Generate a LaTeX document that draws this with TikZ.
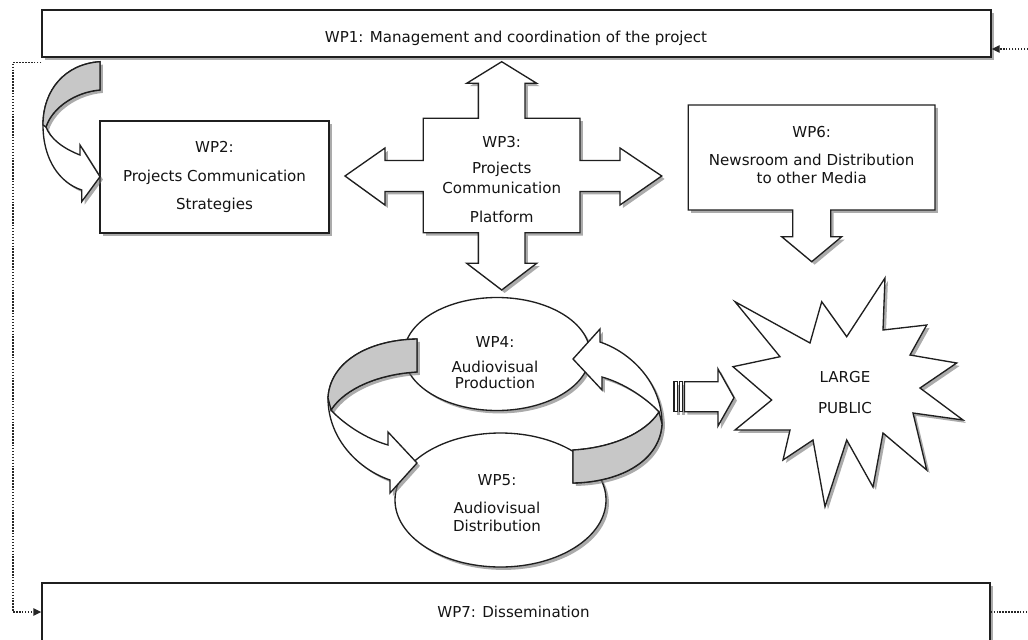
\documentclass[tikz,border=0pt]{standalone}
\usepackage{fontspec}
\setmainfont{DejaVu Sans}
\usetikzlibrary{shapes.geometric,shadows,arrows.meta}
\begin{document}
\begin{tikzpicture}[x=0.75pt,y=-0.75pt,
  shp/.style={draw=black!88,line width=1pt,fill=white,line join=miter,
    drop shadow={shadow xshift=2.2pt,shadow yshift=-2.2pt,fill=black!55,opacity=0.6}},
  band/.style={fill=black!22,draw=black!88,line width=1pt,line join=miter},
  txt/.style={font=\fontsize{11.3}{13.5}\selectfont,text=black!92,align=center,inner sep=0pt},
  dotconn/.style={draw=black!85,line width=1pt,dash pattern=on 1.1pt off 1.1pt},
  endtri/.style={-{Triangle[length=6pt,width=5.5pt]}},
]
\useasboundingbox (0,0) rectangle (1028,639);
\clip (0,0) rectangle (1028,639);

% main boxes
\node[shp,rectangle,inner sep=0pt,minimum width=711.75pt,minimum height=35.25pt] (wp1) at (516.5,33.5) {};
\node[shp,rectangle,inner sep=0pt,minimum width=711pt,minimum height=43.5pt] (wp7) at (516,612) {};
\node[shp,rectangle,inner sep=0pt,minimum width=171.75pt,minimum height=84pt] (wp2) at (214.5,177) {};

% WP3 quad arrow
\draw[shp] (501.7,61.7) -- (536.7,83.3) -- (525,83.3) -- (525,118.3) -- (580,118.3) -- (580,160.5)
  -- (620,160.5) -- (620,148) -- (661.7,176) -- (620,205) -- (620,191.5) -- (580,191.5)
  -- (580,232.7) -- (525,232.7) -- (525,263.3) -- (536.7,263.3) -- (501.7,290) -- (466.7,263.3)
  -- (478.4,263.3) -- (478.4,232.7) -- (423.3,232.7) -- (423.3,191.5) -- (385,191.5) -- (385,205)
  -- (345,176) -- (385,148) -- (385,160.5) -- (423.3,160.5) -- (423.3,118.3) -- (478.4,118.3)
  -- (478.4,83.3) -- (466.7,83.3) -- cycle;

% WP6 callout
\draw[shp] (688.3,105) -- (935,105) -- (935,210) -- (830.7,210) -- (830.7,236.7) -- (841.7,236.7)
  -- (811.7,261.7) -- (781.7,236.7) -- (792.7,236.7) -- (792.7,210) -- (688.3,210) -- cycle;

% ellipses
\node[shp,ellipse,inner sep=0pt,minimum width=158.25pt,minimum height=100.5pt] (wp5) at (500.5,500) {};
\node[shp,ellipse,inner sep=0pt,minimum width=139.5pt,minimum height=84.75pt] (wp4) at (497,354) {};

% circular arrows
\draw[shp] (417,339) .. controls (368,340) and (330,362) .. (328,398)
  .. controls (328,440) and (360,470) .. (390,480) -- (390,493) -- (417,463) -- (388,432) -- (388,445)
  .. controls (360,437) and (338,418) .. (331,410) .. controls (345,388) and (380,374) .. (417,372) -- cycle;
\draw[band] (417,339) .. controls (368,340) and (330,362) .. (328,398) -- (331,410)
  .. controls (345,388) and (380,374) .. (417,372) -- cycle;
\draw[shp] (573,483) .. controls (622,482) and (660,460) .. (662,424)
  .. controls (662,382) and (630,352) .. (600,342) -- (600,329) -- (573,359) -- (602,390) -- (602,377)
  .. controls (630,385) and (652,404) .. (659,412) .. controls (645,434) and (610,448) .. (573,450) -- cycle;
\draw[band] (573,483) .. controls (622,482) and (660,460) .. (662,424) -- (659,412)
  .. controls (645,434) and (610,448) .. (573,450) -- cycle;

% striped arrow
\draw[shp] (674,381.7) rectangle (677.5,411.7);
\draw[shp] (679.5,381.7) rectangle (682.5,411.7);
\draw[shp] (684.5,381.7) -- (718,381.7) -- (718,369) -- (734,397.7) -- (718,426) -- (718,411.7)
  -- (684.5,411.7) -- cycle;

% star
\draw[shp] (735,301.7) -- (810,343) -- (821.7,301.7) -- (846.7,336.7) -- (885,278) -- (883,330)
  -- (926.7,325) -- (910,355) -- (956.7,363) -- (920,388) -- (963,420) -- (913,413)
  -- (926.7,470) -- (883,433) -- (873,487) -- (846.7,440) -- (825,506.7) -- (813,440)
  -- (783,460) -- (790,430) -- (735,430) -- (771.7,400) -- (733,366.7) -- (780,356.7) -- cycle;

% curved arrow WP1 -> WP2
\draw[shp] (100,61.7) .. controls (65,64) and (43,90) .. (43,125)
  .. controls (43,160) and (60,183) .. (81.7,190) -- (81.7,201.7) -- (100,176.7) -- (80,145) -- (80,155)
  .. controls (62,148) and (50,138) .. (46,127) .. controls (52,108) and (75,92) .. (100,90) -- cycle;
\draw[band] (100,61.7) .. controls (65,64) and (43,90) .. (43,125) -- (46,127)
  .. controls (52,108) and (75,92) .. (100,90) -- cycle;

% texts
\node[txt,anchor=base] (t1) at (516,42.5) {WP1: Management and coordination of the project};
\node[txt,anchor=base] (t7) at (513.5,617) {WP7: Dissemination};
\node[txt] (t2) at (214.5,177.3) {WP2:\\[7.9pt]Projects Communication\\[7.9pt]Strategies};
\node[txt] (t3) at (501.7,179.2) {WP3:\\[6.2pt]Projects\\[1.5pt]Communication\\[8pt]Platform};
\node[txt] (t4) at (495,362.4) {WP4:\\[5.25pt]Audiovisual\\[-1.3pt]Production};
\node[txt] (t5) at (497,503.4) {WP5:\\[7.7pt]Audiovisual\\Distribution};
\node[txt] (t6) at (811.7,155) {WP6:\\[7.8pt]Newsroom and Distribution\\to other Media};
\node[txt] (t8) at (845,392.4) {LARGE\\[10pt]PUBLIC};

% dotted connectors
\coordinate (lft) at (13,612);
\coordinate (rt1) at (1028,49);
\coordinate (rt2) at (1028,612);
\draw[dotconn,endtri] ([yshift=-3.75pt]wp1.south west) -| (lft) -- (wp7.west);
\draw[dotconn,endtri] (rt1) -- (wp1.east |- rt1);
\draw[dotconn] (wp7.east) -- (rt2);
\end{tikzpicture}
\end{document}
